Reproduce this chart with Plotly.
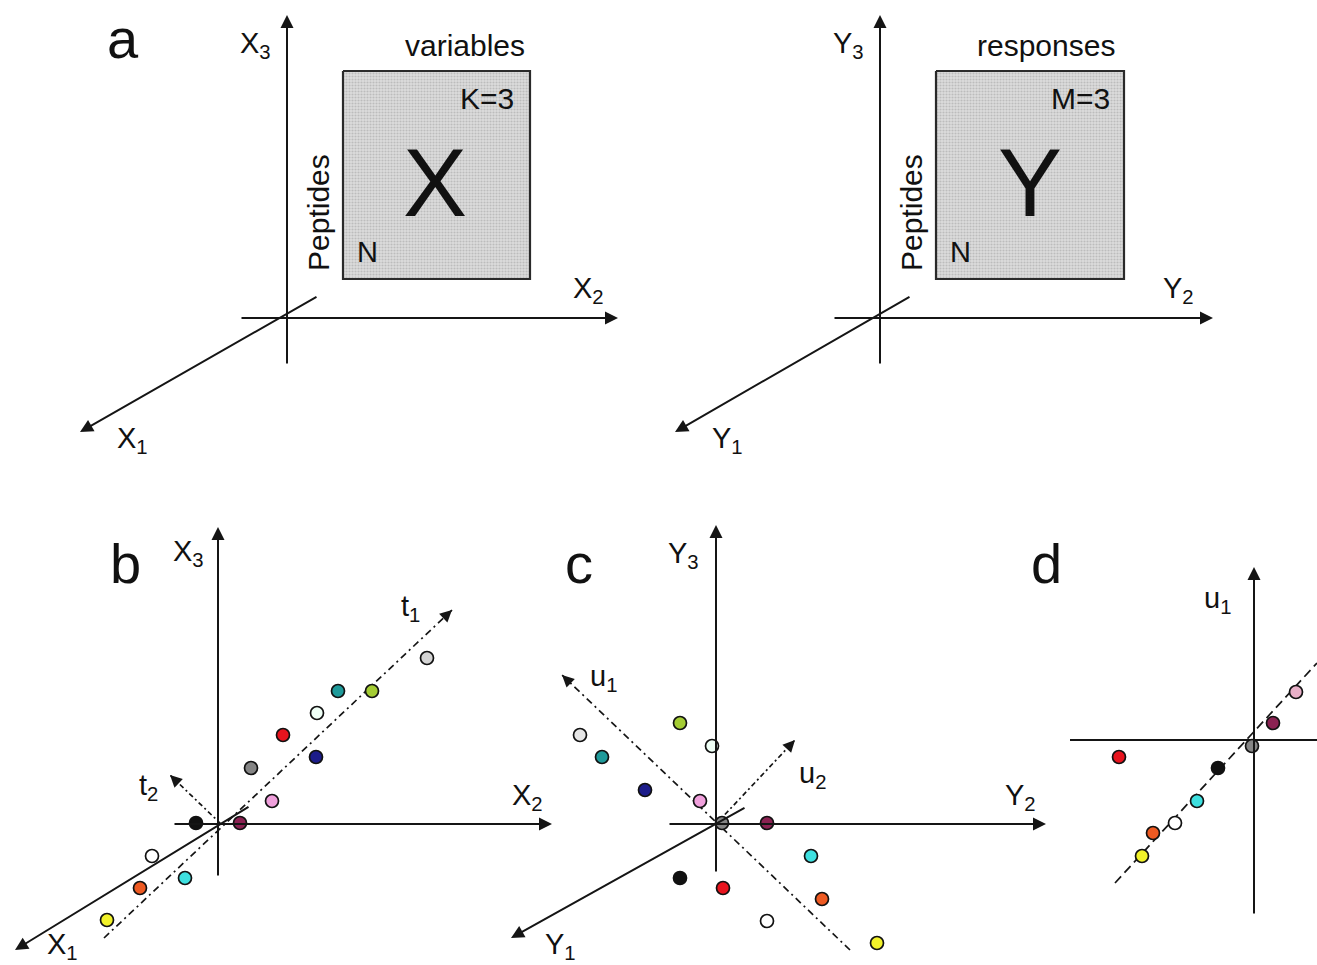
import plotly.graph_objects as go
import math

FONT = "Liberation Sans, Arial, sans-serif"
INK = "#151515"

# ---------------- data (figure pixel space, y downward) ----------------
# Panel a: axes (tail_x, tail_y, tip_x, tip_y)
a_axes = [
    (287, 365, 287, 15), (240, 318, 618, 318), (318, 296, 80, 432),
    (880, 365, 880, 15), (833, 318, 1213, 318), (911, 296, 675, 432),
]
a_boxes_x = [(343, 530), (936, 1124)]
a_boxes_y = [(71, 279), (71, 279)]

# Panel b
b_axes = [(218, 877, 218, 527), (173, 824, 552, 824), (250, 806, 15, 950)]
b_t1 = (104, 938, 452, 610)
b_t2 = (221, 824, 170, 775)
b_x = [427, 372, 338, 317, 283, 316, 251, 272, 196, 240, 152, 185, 140, 107]
b_y = [658, 691, 691, 713, 735, 757, 768, 801, 823, 823, 856, 878, 888, 920]
b_colors = ["#d4d4d4", "#a4cc34", "#1f9a9a", "#effff6", "#e8141e", "#1c1c8a",
            "#858585", "#f0a0dc", "#111111", "#8b2252", "#ffffff", "#3ee0e0",
            "#ee5a22", "#f2f22a"]

# Panel c
c_axes = [(716, 873, 716, 525), (668, 824, 1046, 824), (746, 807, 511, 938)]
c_u1 = (850, 950, 562, 675)
c_u2 = (716, 824, 795, 740)
c_x = [580, 602, 680, 712, 645, 700, 722, 767, 811, 680, 723, 822, 767, 877]
c_y = [735, 757, 723, 746, 790, 801, 823, 823, 856, 878, 888, 899, 921, 943]
c_colors = ["#e6e6e6", "#1f9a9a", "#a4cc34", "#effff6", "#1c1c8a", "#f0a0dc",
            "#858585", "#8b2252", "#3ee0e0", "#111111", "#e8141e", "#ee5a22",
            "#ffffff", "#f2f22a"]

# Panel d
d_axes = [(1254, 915, 1254, 567)]
d_hline = (1070, 740, 1317, 740)
d_fit = (1115, 883, 1317, 663)
d_x = [1296, 1273, 1252, 1119, 1218, 1197, 1175, 1153, 1142]
d_y = [692, 723, 746, 757, 768, 801, 823, 833, 856]
d_colors = ["#e8b0c8", "#8b2252", "#858585", "#e8141e", "#111111", "#3ee0e0",
            "#ffffff", "#ee5a22", "#f2f22a"]

# Text labels: (text, x, y, size, angle)
labels = [
    ("a", 123, 38, 56, 0), ("X<sub>3</sub>", 255, 45, 29, 0),
    ("variables", 465, 45, 30, 0), ("K=3", 487, 98, 30, 0),
    ("X", 435, 182, 96, 0), ("N", 367, 252, 29, 0),
    ("Peptides", 318, 213, 30, -90), ("X<sub>2</sub>", 588, 290, 29, 0),
    ("X<sub>1</sub>", 132, 440, 29, 0),
    ("Y<sub>3</sub>", 848, 45, 29, 0), ("responses", 1046, 45, 30, 0),
    ("M=3", 1080, 98, 30, 0), ("Y", 1030, 182, 96, 0), ("N", 960, 252, 29, 0),
    ("Peptides", 911, 213, 30, -90), ("Y<sub>2</sub>", 1178, 290, 29, 0),
    ("Y<sub>1</sub>", 727, 440, 29, 0),
    ("b", 125, 563, 56, 0), ("X<sub>3</sub>", 188, 553, 29, 0),
    ("t<sub>1</sub>", 410, 608, 29, 0), ("t<sub>2</sub>", 148, 787, 29, 0),
    ("X<sub>2</sub>", 527, 797, 29, 0), ("X<sub>1</sub>", 62, 946, 29, 0),
    ("c", 579, 563, 56, 0), ("Y<sub>3</sub>", 683, 555, 29, 0),
    ("u<sub>1</sub>", 603, 678, 29, 0), ("u<sub>2</sub>", 812, 775, 29, 0),
    ("Y<sub>2</sub>", 1020, 797, 29, 0), ("Y<sub>1</sub>", 560, 946, 29, 0),
    ("d", 1046, 563, 56, 0), ("u<sub>1</sub>", 1217, 600, 29, 0),
]

# ---------------- figure ----------------
fig = go.Figure()
annotations = []


def solid_arrow(seg, width=2.0):
    x0, y0, x1, y1 = seg
    annotations.append(dict(x=x1, y=y1, ax=x0, ay=y0, xref="x", yref="y",
                            axref="x", ayref="y", text="", showarrow=True,
                            arrowhead=2, arrowsize=1.3, arrowwidth=width,
                            arrowcolor=INK, standoff=0, startstandoff=0))


def dashed_arrow(seg, dash, head=True):
    x0, y0, x1, y1 = seg
    fig.add_trace(go.Scatter(x=[x0, x1], y=[y0, y1], mode="lines",
                             line=dict(color=INK, width=1.7, dash=dash),
                             hoverinfo="skip", showlegend=False))
    if head:
        L = math.hypot(x1 - x0, y1 - y0)
        ux, uy = (x1 - x0) / L, (y1 - y0) / L
        annotations.append(dict(x=x1, y=y1, ax=x1 - ux * 6, ay=y1 - uy * 6,
                                xref="x", yref="y", axref="x", ayref="y",
                                text="", showarrow=True, arrowhead=2,
                                arrowsize=1.5, arrowwidth=1.6,
                                arrowcolor=INK, standoff=0))


# boxes in panel a
for (bx0, bx1), (by0, by1) in zip(a_boxes_x, a_boxes_y):
    fig.add_trace(go.Scatter(
        x=[bx0, bx1, bx1, bx0, bx0], y=[by0, by0, by1, by1, by0],
        mode="lines", fill="toself",
        fillcolor="#d4d4d4",
        fillpattern=dict(shape=".", size=3, solidity=0.4,
                         fgcolor="#9c9c9c", bgcolor="#dcdcdc"),
        line=dict(color="#2a2a2a", width=2.2),
        hoverinfo="skip", showlegend=False))

for seg in a_axes + b_axes + c_axes + d_axes:
    solid_arrow(seg)

x0, y0, x1, y1 = d_hline
fig.add_trace(go.Scatter(x=[x0, x1], y=[y0, y1], mode="lines",
                         line=dict(color=INK, width=2), hoverinfo="skip",
                         showlegend=False))

dd = "7px,4px,2px,4px"
dashed_arrow(b_t1, dd)
dashed_arrow(b_t2, "5px,3px,2px,3px")
dashed_arrow(c_u1, dd)
dashed_arrow(c_u2, "5px,3px,2px,3px")
dashed_arrow(d_fit, "9px,5px", head=False)

for xs, ys, cs in [(b_x, b_y, b_colors), (c_x, c_y, c_colors), (d_x, d_y, d_colors)]:
    fig.add_trace(go.Scatter(x=xs, y=ys, mode="markers",
                             marker=dict(size=13, color=cs,
                                         line=dict(color="#111111", width=1.7)),
                             hoverinfo="skip", showlegend=False))

for text, x, y, size, ang in labels:
    annotations.append(dict(x=x, y=y, xref="x", yref="y", text=text,
                            showarrow=False, textangle=ang,
                            font=dict(family=FONT, size=size, color="#111111"),
                            xanchor="center", yanchor="middle"))

fig.update_layout(
    width=1317, height=965,
    margin=dict(l=0, r=0, t=0, b=0),
    paper_bgcolor="white", plot_bgcolor="white",
    xaxis=dict(range=[0, 1317], visible=False, fixedrange=True),
    yaxis=dict(range=[965, 0], visible=False, fixedrange=True),
    annotations=annotations,
    showlegend=False,
)

fig.write_html("out.html",
               config={"displayModeBar": False, "staticPlot": True},
               post_script="document.body.style.margin='0px';"
                           "document.body.style.overflow='hidden';")
